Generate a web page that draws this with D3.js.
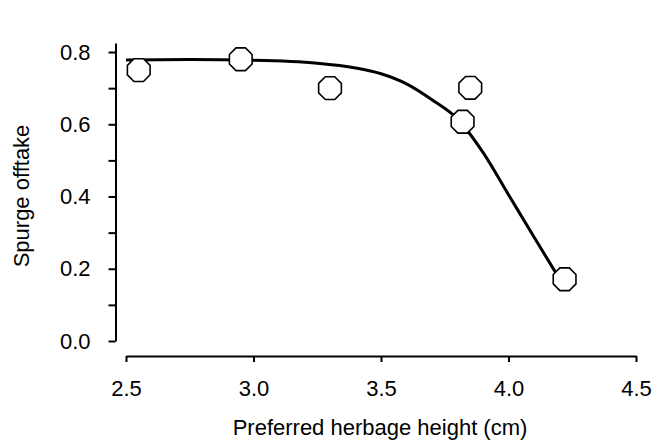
<!DOCTYPE html>
<html>
<head>
<meta charset="utf-8">
<script src="https://cdn.jsdelivr.net/npm/d3@7"></script>
<style>
  html, body { margin: 0; padding: 0; background: #fff; }
  svg { display: block; }
  text { font-family: "Liberation Sans", Arial, sans-serif; fill: #000; }
</style>
</head>
<body>
<svg id="chart" width="655" height="442"></svg>
<script>
// Observed points
const pointX = [2.55, 2.95, 3.30, 3.82, 3.85, 4.22];
const pointY = [0.750, 0.780, 0.700, 0.607, 0.701, 0.171];
// Fitted curve
const curveX = [2.50, 2.75, 3.00, 3.25, 3.40, 3.50, 3.60, 3.70, 3.80, 3.90, 4.00, 4.10, 4.20];
const curveY = [0.778, 0.779, 0.777, 0.769, 0.756, 0.740, 0.712, 0.668, 0.615, 0.522, 0.405, 0.288, 0.172];
// Ticks
const xTicks = [2.5, 3.0, 3.5, 4.0, 4.5];
const yTicks = [0.0, 0.1, 0.2, 0.3, 0.4, 0.5, 0.6, 0.7, 0.8];
const yLabelled = [0.0, 0.2, 0.4, 0.6, 0.8];
const xTitle = "Preferred herbage height (cm)";
const yTitle = "Spurge offtake";

const svg = d3.select("#chart");
const FS = 22;

const x = d3.scaleLinear().domain([2.5, 4.5]).range([126, 636]);
const y = d3.scaleLinear().domain([0, 0.825]).range([341, 43]);

const yAxisX = 115.5;
const xAxisY = 356;

// Y axis
const yAxis = d3.axisLeft(y)
  .tickValues(yTicks)
  .tickSize(7)
  .tickSizeOuter(0)
  .tickPadding(18)
  .tickFormat(d => yLabelled.some(v => Math.abs(v - d) < 1e-9) ? d3.format(".1f")(d) : "");
const gy = svg.append("g").attr("transform", `translate(${yAxisX},0)`).call(yAxis);
gy.select(".domain").attr("stroke", "#000").attr("stroke-width", 2);
gy.selectAll(".tick line").attr("stroke", "#000").attr("stroke-width", 2);
gy.selectAll(".tick text").attr("font-size", FS).attr("font-family", "Liberation Sans, Arial, sans-serif");

// X axis
const xAxis = d3.axisBottom(x)
  .tickValues(xTicks)
  .tickSize(6)
  .tickSizeOuter(0)
  .tickPadding(18)
  .tickFormat(d3.format(".1f"));
const gx = svg.append("g").attr("transform", `translate(0,${xAxisY})`).call(xAxis);
gx.select(".domain").attr("stroke", "#000").attr("stroke-width", 2);
gx.selectAll(".tick line").attr("stroke", "#000").attr("stroke-width", 2);
gx.selectAll(".tick text").attr("font-size", FS).attr("font-family", "Liberation Sans, Arial, sans-serif");

// Axis titles
svg.append("text")
  .attr("x", 380).attr("y", 435)
  .attr("text-anchor", "middle")
  .attr("font-size", FS)
  .text(xTitle);
svg.append("text")
  .attr("transform", "translate(29,196) rotate(-90)")
  .attr("text-anchor", "middle")
  .attr("font-size", FS)
  .text(yTitle);

// Curve
const curveData = curveX.map((d, i) => ({x: d, y: curveY[i]}));
svg.append("path")
  .datum(curveData)
  .attr("fill", "none")
  .attr("stroke", "#000")
  .attr("stroke-width", 3)
  .attr("stroke-linejoin", "round")
  .attr("d", d3.line().x(d => x(d.x)).y(d => y(d.y)).curve(d3.curveMonotoneX));

// Octagon markers
const octagon = {
  draw(context, size) {
    const r = Math.sqrt(size / (2 * Math.SQRT2));
    for (let k = 0; k < 8; k++) {
      const a = Math.PI / 8 + k * Math.PI / 4;
      const px = r * Math.cos(a), py = r * Math.sin(a);
      if (k === 0) context.moveTo(px, py); else context.lineTo(px, py);
    }
    context.closePath();
  }
};
const R = 12.3;
const symSize = 2 * Math.SQRT2 * R * R;
const pts = pointX.map((d, i) => ({x: d, y: pointY[i]}));
svg.append("g").selectAll("path")
  .data(pts)
  .join("path")
  .attr("transform", d => `translate(${x(d.x)},${y(d.y)})`)
  .attr("d", d3.symbol().type(octagon).size(symSize))
  .attr("fill", "#fff")
  .attr("stroke", "#000")
  .attr("stroke-width", 1.6);
</script>
</body>
</html>
